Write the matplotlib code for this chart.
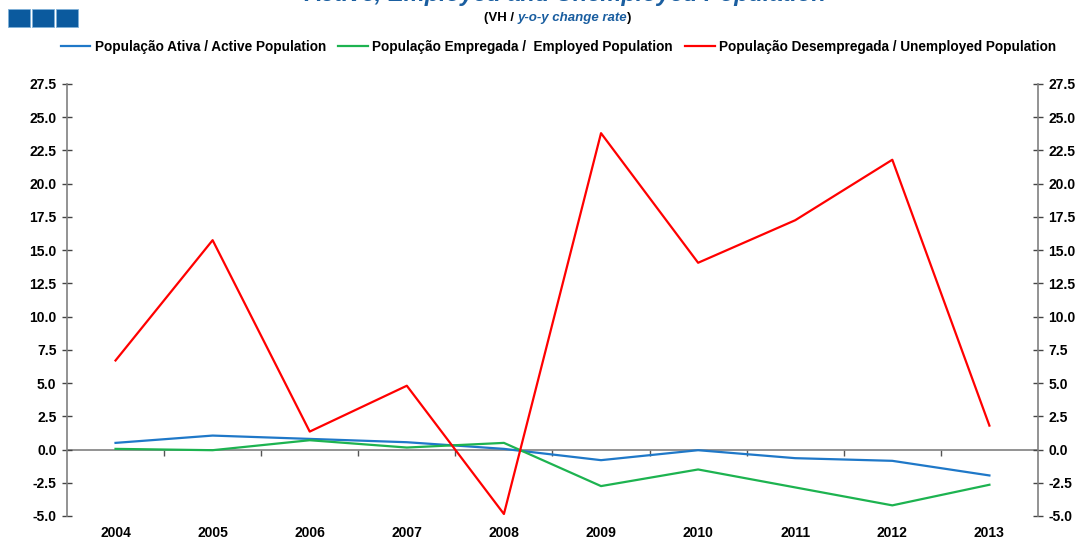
import matplotlib
matplotlib.use('Agg')
import matplotlib.pyplot as plt
from matplotlib.patches import Rectangle

years = ['2004', '2005', '2006', '2007', '2008', '2009', '2010', '2011', '2012', '2013']
active = [0.5, 1.05, 0.8, 0.55, 0.05, -0.8, -0.05, -0.65, -0.85, -1.95]
employed = [0.05, -0.05, 0.7, 0.15, 0.5, -2.75, -1.5, -2.85, -4.2, -2.65]
unemployed = [6.7, 15.75, 1.35, 4.8, -4.85, 23.8, 14.05, 17.25, 21.8, 1.8]

labels = ['População Ativa / Active Population',
          'População Empregada /  Employed Population',
          'População Desempregada / Unemployed Population']
colors = ['#1F78C8', '#1DB350', '#FF0000']

plt.rcParams['font.family'] = ['Liberation Sans', 'DejaVu Sans']
plt.rcParams['font.weight'] = 'bold'

fig = plt.figure(figsize=(10.82, 5.38), dpi=100)
ax = fig.add_axes([0.0619, 0.0409, 0.8974, 0.8030])

x = range(len(years))
handles = []
for vals, lab, col in zip((active, employed, unemployed), labels, colors):
    h, = ax.plot(x, vals, color=col, lw=1.6, label=lab)
    handles.append(h)

ax.set_xlim(-0.5, len(years) - 0.5)
ax.set_ylim(-5, 27.5)
yt = [-5 + 2.5 * i for i in range(14)]
ax.set_yticks(yt)
ax.set_yticklabels(['%.1f' % v for v in yt])
ax.tick_params(axis='y', direction='inout', length=7, width=1, color='#444444',
               labelsize=10, left=True, right=True, labelleft=True, labelright=True, pad=4)

ax.set_xticks(list(x))
ax.set_xticklabels(years)
ax.tick_params(axis='x', length=0, labelsize=10, pad=7)

for side in ('top', 'bottom'):
    ax.spines[side].set_visible(False)
for side in ('left', 'right'):
    ax.spines[side].set_color('#808080')
    ax.spines[side].set_linewidth(1.2)

# zero line with category separators
ax.axhline(0, color='#808080', lw=1.2, zorder=1)
sec = ax.secondary_xaxis(5 / 32.5)
sec.spines['bottom'].set_visible(False)
sec.set_xticks([i + 0.5 for i in range(len(years) - 1)])
sec.set_xticklabels([])
sec.tick_params(axis='x', direction='out', length=4, width=1, color='#555555')

fig.legend(handles=handles, loc='center', bbox_to_anchor=(0.516, 0.913), ncol=3,
           frameon=False, fontsize=9.8, handlelength=2.2, handletextpad=0.3,
           columnspacing=0.9)

# header
title_blue = '#1A5EA0'
fig.text(0.523, 1 - 6 / 538, 'Active, Employed and Unemployed Population',
         ha='center', va='bottom', fontsize=17, fontstyle='italic',
         fontweight='bold', color=title_blue)
t1 = fig.text(0.447, 1 - 18 / 538, '(VH / ', ha='left', va='center',
              fontsize=9.5, fontweight='bold', color='black')
t2 = plt.annotate('y-o-y change rate', xy=(1, 0), xycoords=t1, va='bottom',
                  fontsize=9.5, fontweight='bold', fontstyle='italic', color=title_blue)
plt.annotate(')', xy=(1, 0), xycoords=t2, va='bottom',
             fontsize=9.5, fontweight='bold', color='black')

for i in range(3):
    fig.patches.append(Rectangle(((8 + 24 * i) / 1082, 1 - 27 / 538), 22 / 1082, 18 / 538,
                                 transform=fig.transFigure, facecolor='#0B5A9E',
                                 edgecolor='#7FB0D8', lw=0.6))

fig.savefig('out.png', dpi=100)
